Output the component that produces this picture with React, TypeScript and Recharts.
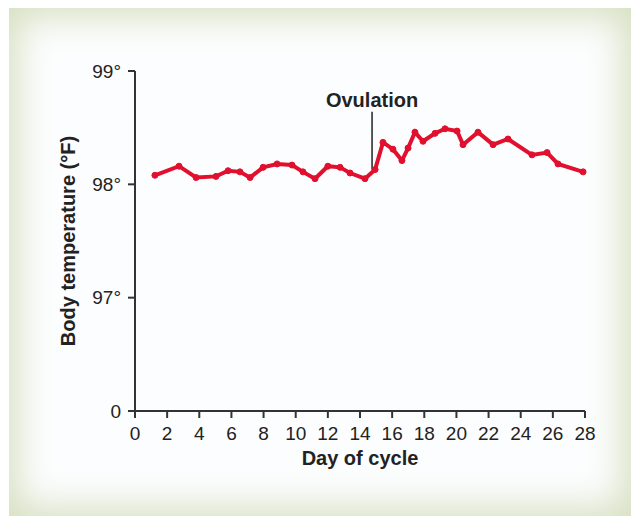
import { LineChart, Line, XAxis, YAxis, ReferenceLine, Label } from "recharts"

// day of cycle (fractional, as plotted) and body temperature in °F
const days = [1.24, 2.74, 3.8, 5.04, 5.79, 6.53, 7.16, 7.97, 8.84, 9.77, 10.45, 11.2, 12.0, 12.76, 13.38, 14.31, 14.94, 15.43, 16.05, 16.61, 16.99, 17.42, 17.92, 18.67, 19.29, 20.04, 20.41, 21.34, 22.28, 23.21, 24.7, 25.64, 26.32, 27.88]
const temps = [98.08, 98.16, 98.06, 98.07, 98.12, 98.11, 98.06, 98.15, 98.18, 98.17, 98.11, 98.05, 98.16, 98.15, 98.1, 98.05, 98.13, 98.37, 98.31, 98.21, 98.32, 98.46, 98.38, 98.45, 98.49, 98.47, 98.35, 98.46, 98.35, 98.4, 98.26, 98.28, 98.18, 98.11]
const xTicks = [0, 2, 4, 6, 8, 10, 12, 14, 16, 18, 20, 22, 24, 26, 28]
// 96 stands in for the broken-axis "0"
const yTicks = [96, 97, 98, 99]
const ovulationDay = 14.75

const data = days.map((d, i) => ({ day: d, temp: temps[i] }))

const font = '"Liberation Sans", Arial, sans-serif'
const ink = "#222"

export default function App() {
    return (
        <div style={{ position: "absolute", left: 0, top: 0, width: 631, height: 516, background: "#fff", overflow: "hidden" }}>
            <div
                style={{
                    position: "absolute", left: 9, top: 8, width: 622, height: 508,
                    background: "#fcfdfe",
                    boxShadow: "inset 0 0 36px 8px #d5dfbf",
                }}
            />
            <div style={{ position: "absolute", left: 0, top: 0 }}>
                <LineChart width={631} height={516} data={data} margin={{ top: 71, right: 46, left: 55, bottom: 45 }}>
                    <XAxis
                        dataKey="day"
                        type="number"
                        domain={[0, 28]}
                        ticks={xTicks}
                        interval={0}
                        height={60}
                        tickSize={7}
                        tickMargin={9}
                        axisLine={{ stroke: "#333", strokeWidth: 2 }}
                        tickLine={{ stroke: "#333", strokeWidth: 2 }}
                        tick={{ fill: ink, fontSize: 19, fontFamily: font }}
                    >
                        <Label value="Day of cycle" position="insideBottom" offset={6} style={{ fill: ink, fontSize: 20, fontWeight: "bold", fontFamily: font }} />
                    </XAxis>
                    <YAxis
                        type="number"
                        domain={[96, 99]}
                        ticks={yTicks}
                        interval={0}
                        width={80}
                        tickSize={7}
                        tickMargin={7}
                        tickFormatter={(v: number) => (v === 96 ? "0" : `${v}°`)}
                        axisLine={{ stroke: "#333", strokeWidth: 2 }}
                        tickLine={{ stroke: "#333", strokeWidth: 2 }}
                        tick={{ fill: ink, fontSize: 19, fontFamily: font }}
                    >
                        <Label
                            value="Body temperature (°F)"
                            angle={-90}
                            position="insideLeft"
                            offset={13}
                            style={{ textAnchor: "middle", fill: ink, fontSize: 20, fontWeight: "bold", fontFamily: font }}
                        />
                    </YAxis>
                    <ReferenceLine
                        segment={[{ x: ovulationDay, y: 98.13 }, { x: ovulationDay, y: 98.64 }]}
                        stroke="#222"
                        strokeWidth={1.5}
                        label={{ value: "Ovulation", position: "top", offset: 5, fill: ink, fontSize: 20, fontWeight: "bold", fontFamily: font }}
                    />
                    <Line
                        type="linear"
                        dataKey="temp"
                        stroke="#e0102e"
                        strokeWidth={4}
                        dot={{ r: 3, fill: "#e0102e", stroke: "#e0102e", strokeWidth: 1 }}
                        activeDot={false}
                        isAnimationActive={false}
                    />
                </LineChart>
            </div>
        </div>
    )
}
